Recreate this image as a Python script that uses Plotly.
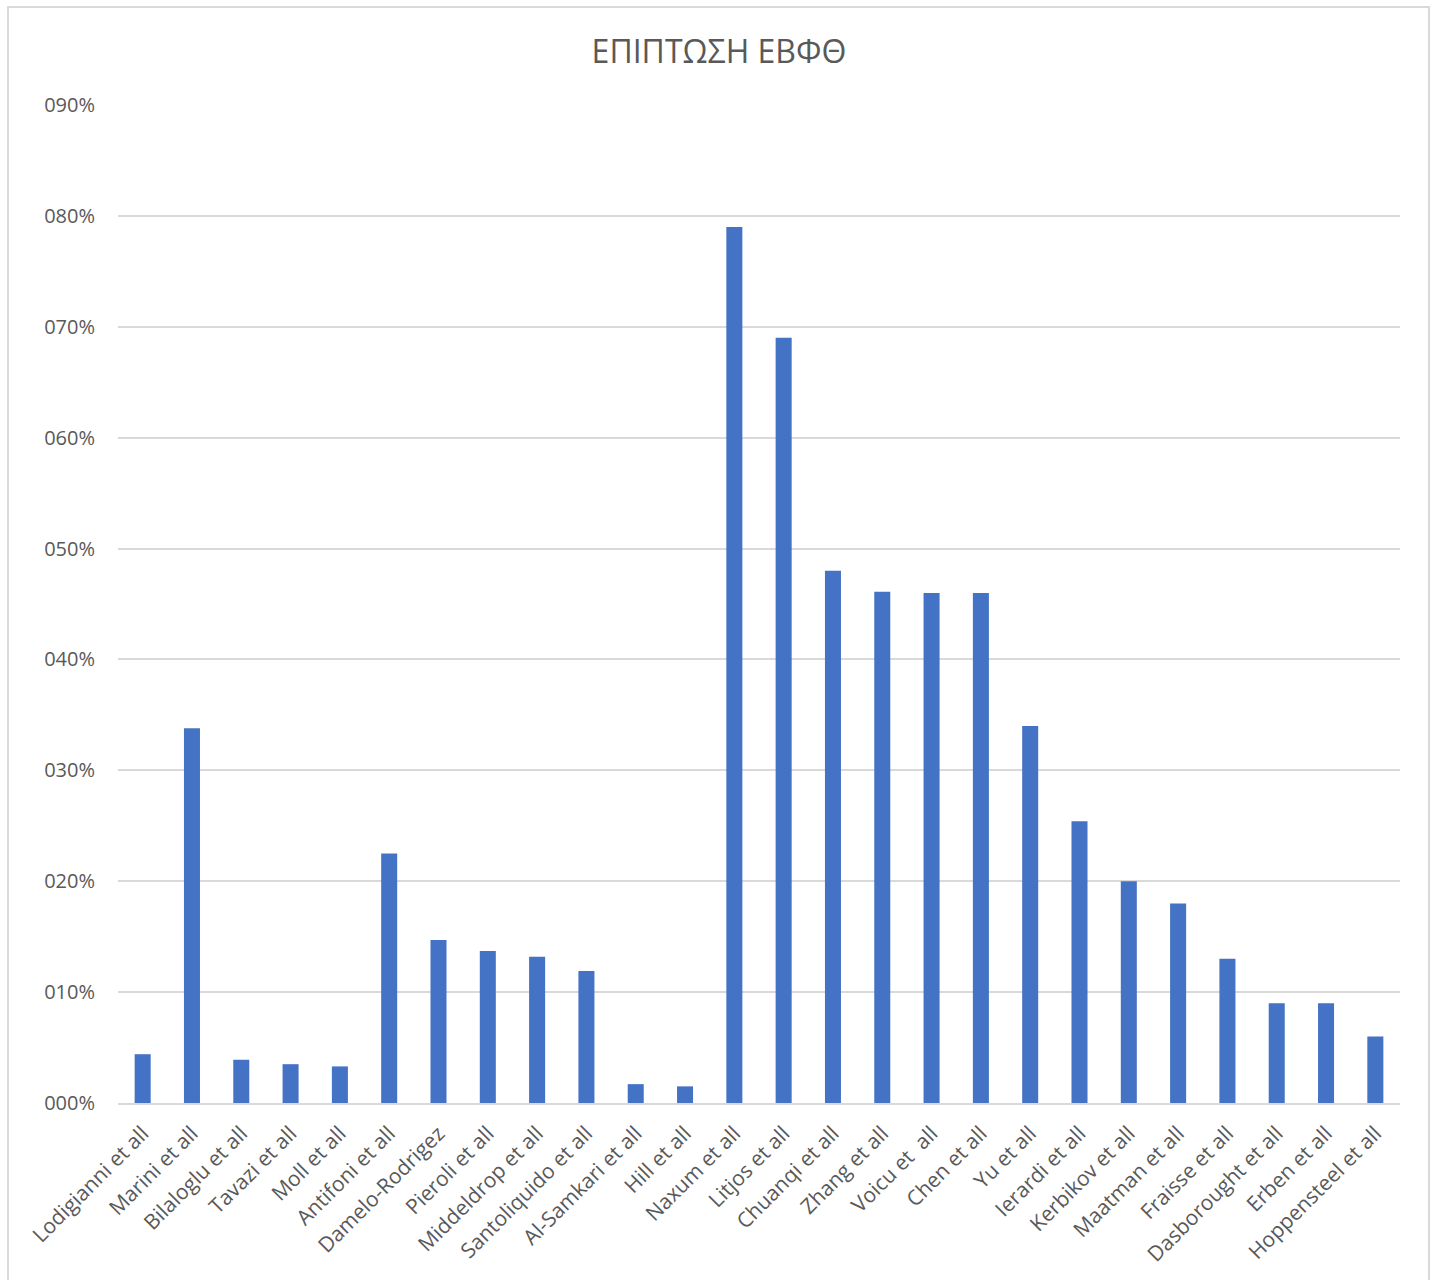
import plotly.graph_objects as go

categories = [
    "Lodigianni et all", "Marini et all", "Bilaloglu et all", "Tavazi et all",
    "Moll et all", "Antifoni et all", "Damelo-Rodrigez", "Pieroli et all",
    "Middeldrop et all", "Santoliquido et all", "Al-Samkari et all", "Hill et all",
    "Naxum et all", "Litjos et all", "Chuanqi et all", "Zhang et all",
    "Voicu et\u00a0 all", "Chen et all", "Yu et all", "Ierardi et all",
    "Kerbikov et all", "Maatman et all", "Fraisse et all", "Dasborought et all",
    "Erben et all", "Hoppensteel et all",
]
values = [
    0.044, 0.338, 0.039, 0.035, 0.033, 0.225, 0.147, 0.137,
    0.132, 0.119, 0.017, 0.015, 0.790, 0.690, 0.480, 0.461,
    0.460, 0.460, 0.340, 0.254, 0.200, 0.180, 0.130, 0.090,
    0.090, 0.060,
]
y_ticks = [0.0, 0.1, 0.2, 0.3, 0.4, 0.5, 0.6, 0.7, 0.8, 0.9]

FONT = "Open Sans"
GRAY = "#595959"

fig = go.Figure(
    go.Bar(
        x=categories,
        y=values,
        marker=dict(color="#4472C4", line=dict(width=0)),
        hoverinfo="x+y",
    )
)

fig.update_layout(
    width=1438,
    height=1280,
    paper_bgcolor="white",
    plot_bgcolor="white",
    margin=dict(l=118, r=38, t=105, b=177),
    bargap=0.675,
    showlegend=False,
    title=dict(
        text="ΕΠΙΠΤΩΣΗ ΕΒΦΘ",
        x=0.5,
        xref="container",
        xanchor="center",
        y=1 - 52 / 1280,
        yanchor="middle",
        font=dict(family=FONT, size=32, color=GRAY),
    ),
    font=dict(family=FONT, color=GRAY),
    shapes=[
        dict(
            type="rect",
            xref="paper",
            yref="paper",
            x0=-110 / 1282,
            x1=1311 / 1282,
            y0=-0.3,
            y1=1096 / 998,
            line=dict(color="#d9d9d9", width=2),
            fillcolor="rgba(0,0,0,0)",
            layer="below",
        )
    ],
)

fig.update_xaxes(
    tickangle=-45,
    tickfont=dict(family=FONT, size=21, color=GRAY),
    showgrid=False,
    showline=True,
    linecolor="#d9d9d9",
    linewidth=2,
    ticks="",
    ticklabelstandoff=8,
)
fig.update_yaxes(
    range=[0, 0.9],
    tickvals=y_ticks,
    tickformat="04.0%",
    tickfont=dict(family=FONT, size=20, color=GRAY),
    showgrid=True,
    gridcolor="#d9d9d9",
    gridwidth=1.5,
    zeroline=False,
    showline=False,
    ticks="",
    ticklabelstandoff=22,
)

fig.write_html("out.html")
